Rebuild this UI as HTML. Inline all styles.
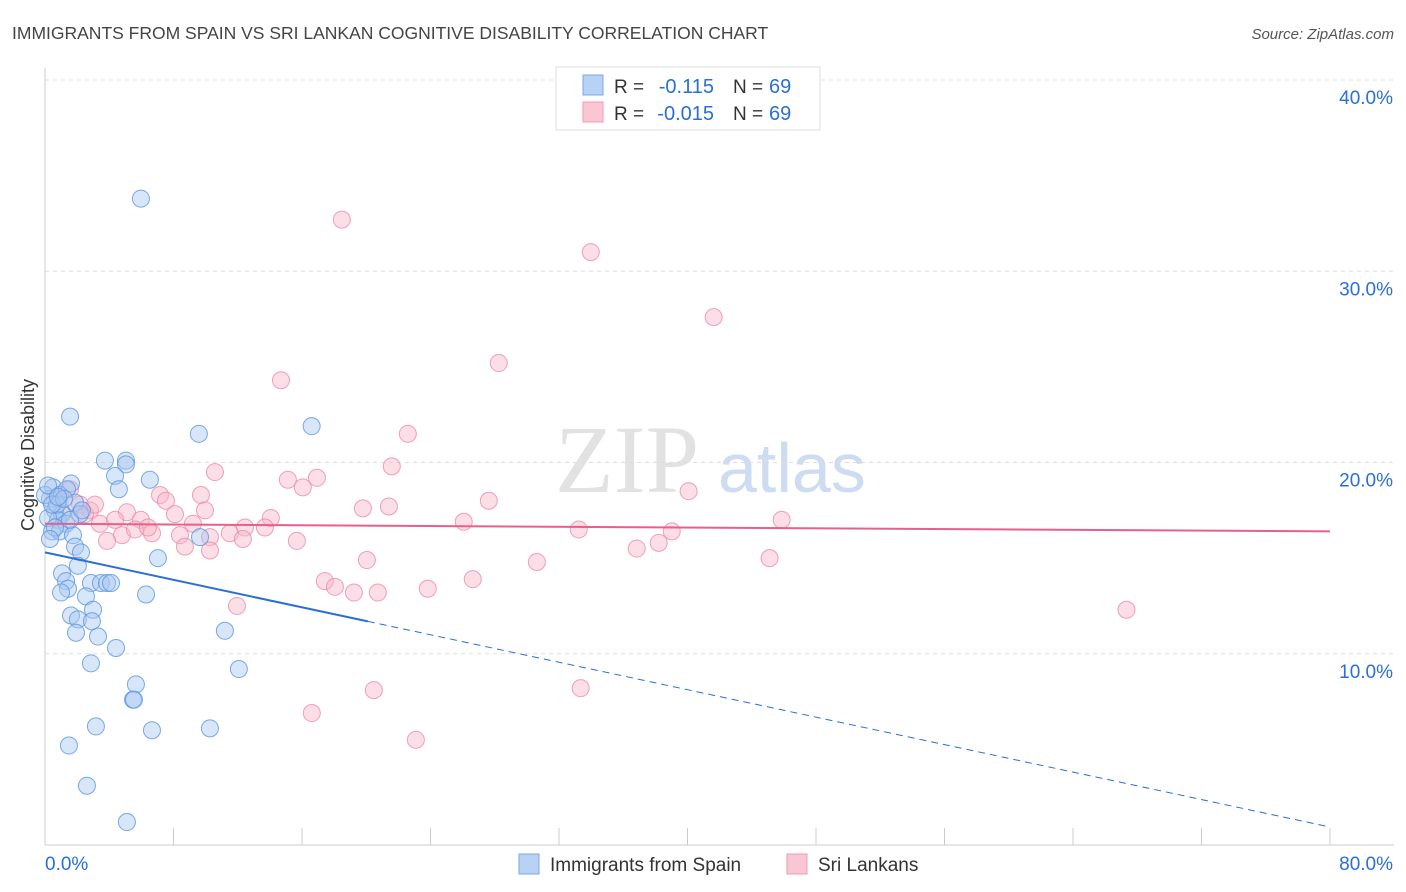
<!DOCTYPE html>
<html><head><meta charset="utf-8"><style>
body{margin:0;background:#fff;font-family:"Liberation Sans",sans-serif}
svg{display:block}
</style></head><body>
<svg id="chart" width="1406" height="892">
<text x="12" y="39" font-size="17.5" fill="#444">IMMIGRANTS FROM SPAIN VS SRI LANKAN COGNITIVE DISABILITY CORRELATION CHART</text>
<text x="1394" y="39" font-size="15" fill="#555" font-style="italic" text-anchor="end">Source: ZipAtlas.com</text>
<text x="555" y="492" font-size="96" fill="#e2e2e2" font-family="Liberation Serif,serif">ZIP</text>
<text x="718" y="492" font-size="70" fill="#cddcf1">atlas</text>
<text transform="translate(34,455) rotate(-90)" font-size="18" fill="#333" text-anchor="middle">Cognitive Disability</text>
<g id="grid"></g><g id="marks"></g>
<g>
<rect x="556" y="67" width="264" height="63" fill="#fff" stroke="#ddd"/>
<rect x="583" y="75" width="20" height="20" fill="#b8d2f5" stroke="#7aa7e8"/>
<rect x="583" y="102" width="20" height="20" fill="#fac6d4" stroke="#f09ab4"/>
<text x="614" y="93" font-size="19" fill="#333">R =</text>
<text x="714" y="93" font-size="20" fill="#2a6fd6" text-anchor="end">-0.115</text>
<text x="733" y="93" font-size="19" fill="#333">N =</text>
<text x="769" y="93" font-size="20" fill="#2a6fd6">69</text>
<text x="614" y="120" font-size="19" fill="#333">R =</text>
<text x="714" y="120" font-size="20" fill="#2a6fd6" text-anchor="end">-0.015</text>
<text x="733" y="120" font-size="19" fill="#333">N =</text>
<text x="769" y="120" font-size="20" fill="#2a6fd6">69</text>
</g>
<g>
<rect x="519" y="854" width="20" height="20" fill="#b8d2f5" stroke="#7aa7e8"/>
<text x="550" y="871" font-size="19" fill="#333">Immigrants from Spain</text>
<rect x="787" y="854" width="20" height="20" fill="#fac6d4" stroke="#f09ab4"/>
<text x="818" y="871" font-size="19" fill="#333">Sri Lankans</text>
</g>
</svg>
<script>
const yTicks=[10,20,30,40];
const xTickLabels=["0.0%","80.0%"];
const blueX=[5.97,1.56,9.58,16.6,3.73,5.04,5.04,6.53,4.36,4.6,1.62,0.5,0.93,1.37,0.31,0.62,1.06,1.87,2.18,0.81,1.31,0.44,0.93,1.74,9.65,1.87,2.24,7.03,2.05,1.06,1.31,1.43,2.86,3.48,3.86,4.11,6.29,1.0,2.55,1.62,2.99,2.05,2.92,1.93,3.3,11.2,4.42,2.86,12.07,5.66,5.48,5.54,3.17,6.66,10.27,1.49,2.61,5.1,0.19,0.62,0.31,0.75,0.0,0.44,1.18,1.56,0.19,0.81,2.3];
const blueY=[33.8,22.4,21.5,21.9,20.1,20.1,19.9,19.1,19.3,18.6,18.9,18.7,18.3,18.6,18.1,17.5,17.3,17.9,17.3,17.0,16.8,16.4,16.4,16.2,16.1,15.6,15.3,15.0,14.6,14.2,13.8,13.4,13.7,13.7,13.7,13.7,13.1,13.2,13.0,12.0,12.3,11.8,11.7,11.1,10.9,11.2,10.3,9.5,9.2,8.4,7.6,7.6,6.2,6.0,6.1,5.2,3.1,1.2,17.1,16.6,16.0,17.8,18.3,17.8,18.1,17.0,18.8,18.2,17.5];
const pinkX=[18.48,33.98,41.63,28.25,14.69,22.59,10.58,21.59,16.93,15.12,16.05,7.16,7.53,9.71,27.63,40.07,19.79,21.41,9.96,8.09,5.1,5.97,9.21,14.06,26.07,45.86,33.23,39.02,38.21,36.84,15.68,12.45,13.69,11.51,10.27,8.4,6.66,4.79,3.86,8.71,10.27,12.32,20.04,30.62,45.11,26.63,17.42,18.05,19.23,20.72,23.83,11.95,67.33,20.47,33.35,16.61,23.09,3.42,2.8,0.93,1.56,0.62,2.18,4.36,5.6,6.41,1.06,2.49,3.11];
const pinkY=[32.7,31.0,27.6,25.2,24.3,21.5,19.5,19.8,19.2,19.1,18.7,18.3,18.0,18.3,18.0,18.5,17.6,17.7,17.5,17.3,17.4,17.0,16.8,17.1,16.9,17.0,16.5,16.4,15.8,15.5,15.9,16.6,16.6,16.3,16.1,16.2,16.3,16.2,15.9,15.6,15.4,16.0,14.9,14.8,15.0,13.9,13.8,13.5,13.2,13.2,13.4,12.5,12.3,8.1,8.2,6.9,5.5,16.8,17.5,18.3,18.6,18.1,17.8,17.0,16.5,16.6,17.4,17.3,17.8];
const blueTrend=[15.3,0.94];
const pinkTrend=[16.8,16.4];
const X0=45,X1=1330,Y0=845,Y40=80;
const sx=v=>X0+(X1-X0)*v/80;
const sy=v=>Y0-(Y0-Y40)*v/40;
const NS="http://www.w3.org/2000/svg";
function mk(tag,attrs,parent){const e=document.createElementNS(NS,tag);for(const k in attrs)e.setAttribute(k,attrs[k]);parent.appendChild(e);return e;}
const grid=document.getElementById('grid'),marks=document.getElementById('marks');
let ax=mk('line',{x1:X0,y1:68,x2:X0,y2:Y0,stroke:'#ccc'},grid);


let bx=mk('line',{x1:X0,y1:Y0,x2:1394,y2:Y0,stroke:'#ccc'},grid);


yTicks.forEach(t=>{
 const g=mk('line',{x1:X0,y1:sy(t),x2:1394,y2:sy(t),stroke:'#ddd','stroke-dasharray':'4,4'},grid);
 
 
 const l=mk('text',{x:1393,y:sy(t)+24,'font-size':19,fill:'#2a6fd6','text-anchor':'end'},grid);
 l.textContent=t.toFixed(1)+'%';
 
 
});
for(let i=0;i<=10;i++){
 const t=mk('line',{x1:sx(i*8),y1:828,x2:sx(i*8),y2:Y0,stroke:'#ccc'},grid);
 
 
}
[[0,'start',45],[80,'end',1393]].forEach((d,i)=>{
 const l=mk('text',{x:d[2],y:870,'font-size':19,fill:'#2a6fd6','text-anchor':d[1]},grid);
 l.textContent=xTickLabels[i];
 
 
});
function pts(xs,ys,fill,stroke,name){xs.forEach((x,i)=>{
 const c=mk('circle',{cx:sx(x),cy:sy(ys[i]),r:8.5,fill:fill,'fill-opacity':0.45,stroke:stroke,'stroke-opacity':0.8,'stroke-width':1},marks);
 
 
});}
pts(pinkX,pinkY,'#f8b6c8','#ec8aa8','point-sri-lankans');
pts(blueX,blueY,'#a9c8f2','#5a95e0','point-spain');
const bAt=v=>blueTrend[0]+(blueTrend[1]-blueTrend[0])*v/80;
let t1=mk('line',{x1:sx(0),y1:sy(bAt(0)),x2:sx(20.1),y2:sy(bAt(20.1)),stroke:'#2a6fd6','stroke-width':2},marks);


let t2=mk('line',{x1:sx(20.1),y1:sy(bAt(20.1)),x2:sx(80),y2:sy(bAt(80)),stroke:'#2a6fd6','stroke-width':1,'stroke-dasharray':'7,5'},marks);


let t3=mk('line',{x1:sx(0),y1:sy(pinkTrend[0]),x2:sx(80),y2:sy(pinkTrend[1]),stroke:'#e8608a','stroke-width':2},marks);


</script>
</body></html>
